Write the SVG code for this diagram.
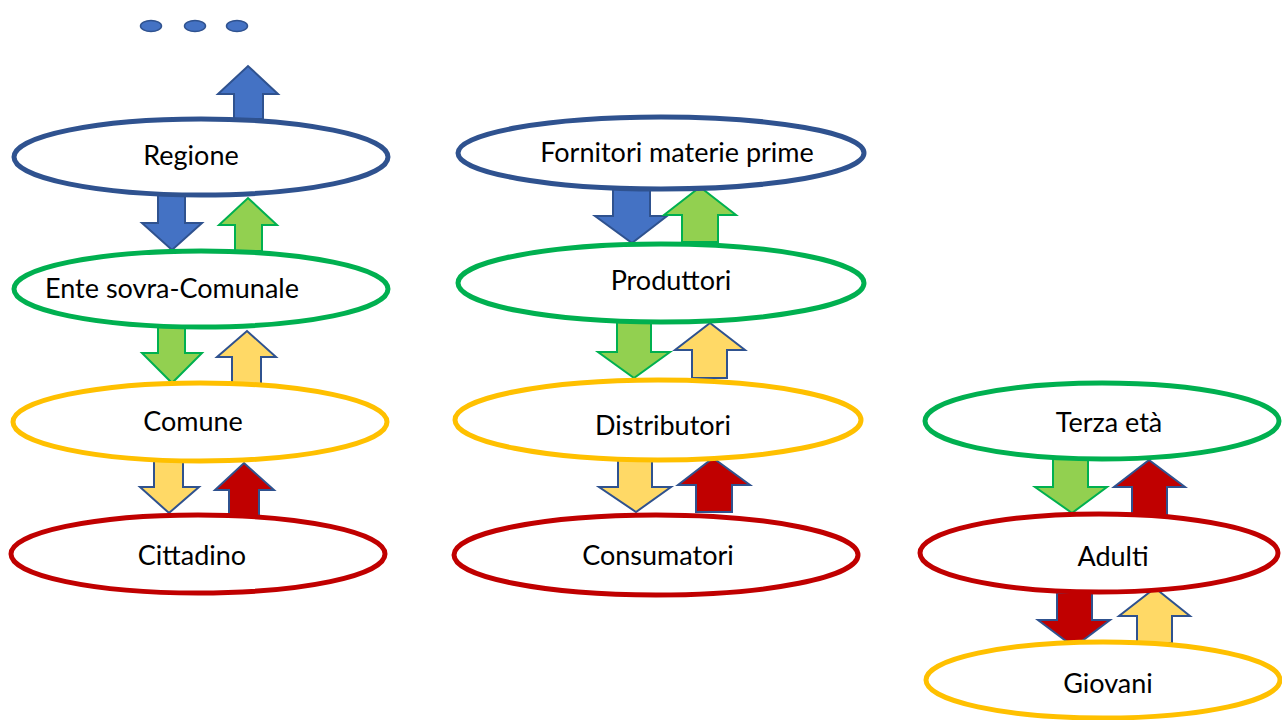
<svg xmlns="http://www.w3.org/2000/svg" width="1282" height="720" viewBox="0 0 1282 720">
  <style>
    .node { fill: #ffffff; stroke-width: 5; }
    .blue { stroke: #2F528F; }
    .green { stroke: #00B050; }
    .yellow { stroke: #FFC000; }
    .red { stroke: #C00000; }
    .label { font-family: Lato, "Liberation Sans", sans-serif; font-size: 27px; fill: #000000; text-anchor: middle; }
    .arrow { stroke-width: 2; stroke-linejoin: miter; }
    .a-blue { fill: #4472C4; stroke: #2F528F; }
    .a-green { fill: #92D050; stroke: #00B050; }
    .a-yellow { fill: #FFD966; stroke: #2F528F; }
    .a-red { fill: #C00000; stroke: #2F528F; }
  </style>

  <!-- continuation dots above the top level -->
  <g id="more-levels" class="a-blue" stroke-width="1.5">
    <ellipse cx="151" cy="26" rx="10.5" ry="5.5"/>
    <ellipse cx="195" cy="26" rx="10.5" ry="5.5"/>
    <ellipse cx="237" cy="26" rx="10.5" ry="5.5"/>
  </g>

  <!-- block arrows between levels -->
  <g id="connectors" class="arrow">
    <!-- Regione up -->
    <path class="a-blue" d="M234 119 L234 94 L218 94 L248 66 L278 94 L263 94 L263 119 Z"/>
    <!-- Regione / Ente sovra-Comunale -->
    <path class="a-blue" d="M158 195 L185 195 L185 223 L202 223 L172 250 L142 223 L158 223 Z"/>
    <path class="a-green" d="M235 251 L235 225 L219 225 L248 198 L277 225 L262 225 L262 251 Z"/>
    <!-- Ente sovra-Comunale / Comune -->
    <path class="a-green" d="M158 327 L185 327 L185 353 L202 353 L172 383 L142 353 L158 353 Z"/>
    <path class="a-yellow" d="M232 384 L232 357 L217 357 L247 331 L276 357 L261 357 L261 384 Z"/>
    <!-- Comune / Cittadino -->
    <path class="a-yellow" d="M154 461 L183 461 L183 487 L199 487 L169 513 L140 487 L154 487 Z"/>
    <path class="a-red" d="M229 516 L229 490 L215 490 L244 463 L274 490 L259 490 L259 516 Z"/>

    <!-- Fornitori materie prime / Produttori -->
    <path class="a-blue" d="M613 188 L650 188 L650 216 L667 216 L632 243 L595 216 L613 216 Z"/>
    <path class="a-green" d="M682 242 L682 215 L664 215 L700 187 L736 215 L718 215 L718 242 Z"/>
    <!-- Produttori / Distributori -->
    <path class="a-green" d="M617 322 L651 322 L651 352 L670 352 L634 378 L598 352 L617 352 Z"/>
    <path class="a-yellow" d="M692 378 L692 350 L675 350 L710 323 L745 350 L727 350 L727 378 Z"/>
    <!-- Distributori / Consumatori -->
    <path class="a-yellow" d="M618 460 L652 460 L652 487 L671 487 L636 512 L599 487 L618 487 Z"/>
    <path class="a-red" d="M696 512 L696 485 L678 485 L713 458 L750 485 L732 485 L732 512 Z"/>

    <!-- Terza età / Adulti -->
    <path class="a-green" d="M1053 458 L1088 458 L1088 487 L1107 487 L1072 513 L1035 487 L1053 487 Z"/>
    <path class="a-red" d="M1132 515 L1132 487 L1114 487 L1149 460 L1185 487 L1167 487 L1167 515 Z"/>
    <!-- Adulti / Giovani -->
    <path class="a-red" d="M1057 593 L1092 593 L1092 620 L1110 620 L1074 647 L1038 620 L1057 620 Z"/>
    <path class="a-yellow" d="M1137 643 L1137 616 L1119 616 L1155 588 L1190 616 L1172 616 L1172 643 Z"/>
  </g>

  <!-- column 1: administrative levels -->
  <g id="regione">
    <ellipse class="node blue" cx="201" cy="157" rx="187" ry="38"/>
    <text class="label" x="191" y="165">Regione</text>
  </g>
  <g id="ente-sovra-comunale">
    <ellipse class="node green" cx="201" cy="289" rx="187" ry="38"/>
    <text class="label" x="172" y="298">Ente sovra-Comunale</text>
  </g>
  <g id="comune">
    <ellipse class="node yellow" cx="200" cy="422" rx="187" ry="39"/>
    <text class="label" x="193" y="431">Comune</text>
  </g>
  <g id="cittadino">
    <ellipse class="node red" cx="198" cy="554" rx="187" ry="39"/>
    <text class="label" x="192" y="565">Cittadino</text>
  </g>

  <!-- column 2: supply chain -->
  <g id="fornitori">
    <ellipse class="node blue" cx="661" cy="153" rx="203" ry="36"/>
    <text class="label" x="677" y="162">Fornitori materie prime</text>
  </g>
  <g id="produttori">
    <ellipse class="node green" cx="661" cy="283" rx="203" ry="39"/>
    <text class="label" x="671" y="290">Produttori</text>
  </g>
  <g id="distributori">
    <ellipse class="node yellow" cx="658" cy="420" rx="203" ry="40"/>
    <text class="label" x="663" y="435">Distributori</text>
  </g>
  <g id="consumatori">
    <ellipse class="node red" cx="656" cy="555" rx="202" ry="40"/>
    <text class="label" x="658" y="565">Consumatori</text>
  </g>

  <!-- column 3: generations -->
  <g id="terza-eta">
    <ellipse class="node green" cx="1102" cy="421" rx="177" ry="38"/>
    <text class="label" x="1109" y="432">Terza età</text>
  </g>
  <g id="adulti">
    <ellipse class="node red" cx="1099" cy="553" rx="179" ry="39"/>
    <text class="label" x="1113" y="566">Adulti</text>
  </g>
  <g id="giovani">
    <ellipse class="node yellow" cx="1103" cy="680" rx="177" ry="38"/>
    <text class="label" x="1108" y="693">Giovani</text>
  </g>
</svg>
